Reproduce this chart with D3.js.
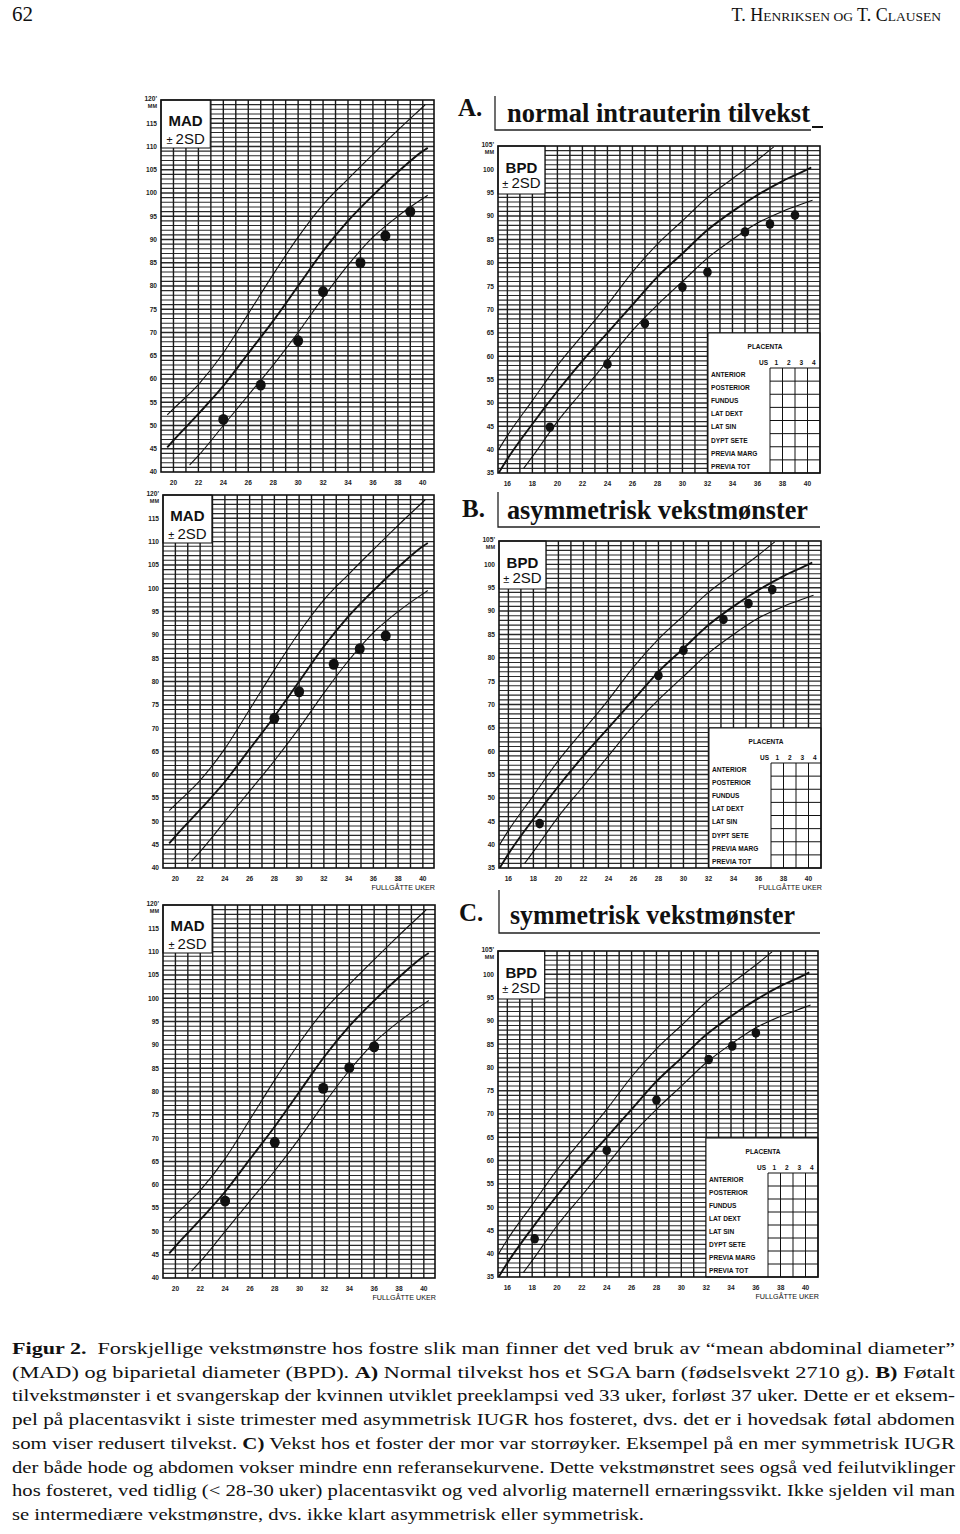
<!DOCTYPE html>
<html><head><meta charset="utf-8">
<script src="https://cdn.jsdelivr.net/npm/d3@7"></script>
<style>html,body{margin:0;padding:0;background:#fff;}</style>
</head><body>
<svg id="c" width="960" height="1534"></svg>
<script>
// ---------- DATA ----------
// MAD reference curves (mm) by gestational week
const madUpperWeeks = [19.5,20,22,24,26,28,30,32,34,36,38,40,40.2];
const madUpperMM    = [52.3,53.6,58.8,65.6,74,82.5,90.5,97.5,103,108.3,113.5,118.5,119];
const madMeanWeeks  = [19.5,20,22,24,26,28,30,32,34,36,38,40,40.4];
const madMeanMM     = [45.3,46.8,52.5,58.5,65.5,72.5,80,87.5,94,99.5,104.5,109,109.7];
const madLowerWeeks = [21.3,22,24,26,28,30,32,34,36,38,40,40.4];
const madLowerMM    = [41.5,43.5,50,56.5,63,70,77.5,84.5,90.5,95,98.8,99.5];
// BPD reference curves (mm)
const bpdUpperWeeks = [15.3,16,18,20,22,24,26,28,30,32,34,36,37.3];
const bpdUpperMM    = [40,43,50.5,58,64.5,71,78,84,89,94,98,102,104.8];
const bpdMeanWeeks  = [15.3,16,18,20,22,24,26,28,30,32,34,36,38,40,40.3];
const bpdMeanMM     = [35,38,45.5,52.5,59,65,71,77,82,87,91,94.5,97.5,100,100.4];
const bpdLowerWeeks = [17.3,18,20,22,24,26,28,30,32,34,36,38,40,40.4];
const bpdLowerMM    = [36,38.5,46,52.5,59,65.5,71,76,81,85,88.5,91,93,93.4];
// Measurements (week, mm)
const madA = [[24,51.3],[27,58.7],[30,68.2],[32,78.8],[35,85],[37,90.8],[39,96]];
const bpdA = [[19.4,44.8],[24,58.3],[27,67],[30,74.8],[32,78],[35,86.6],[37,88.3],[39,90.2]];
const madB = [[28,72.1],[30,77.8],[32.8,83.7],[34.9,87],[37,89.8]];
const bpdB = [[18.5,44.5],[28,76.2],[30,81.6],[33.2,88.2],[35.2,91.6],[37.1,94.6]];
const madC = [[24,56.5],[28,69.1],[31.9,80.7],[34,85.1],[36,89.6]];
const bpdC = [[18.2,43.2],[24,62.2],[28,73],[32.2,81.7],[34.1,84.6],[36,87.4]];
// Tick labels
const madYTicks = [40,45,50,55,60,65,70,75,80,85,90,95,100,105,110,115];
const bpdYTicks = [35,40,45,50,55,60,65,70,75,80,85,90,95,100];
const madXTicks = [20,22,24,26,28,30,32,34,36,38,40];
const bpdXTicks = [16,18,20,22,24,26,28,30,32,34,36,38,40];
const placentaRows = ["ANTERIOR","POSTERIOR","FUNDUS","LAT DEXT","LAT SIN","DYPT SETE","PREVIA MARG","PREVIA TOT"];
const placentaCols = ["1","2","3","4"];
const sectionLetters = ["A.","B.","C."];
const sectionTitles = ["normal intrauterin tilvekst","asymmetrisk vekstmønster","symmetrisk vekstmønster"];
const captionLines = [
 [["Figur 2.",1],["  Forskjellige vekstmønstre hos fostre slik man finner det ved bruk av “mean abdominal diameter”",0]],
 [["(MAD) og biparietal diameter (BPD). ",0],["A)",1],[" Normal tilvekst hos et SGA barn (fødselsvekt 2710 g). ",0],["B)",1],[" Føtalt",0]],
 [["tilvekstmønster i et svangerskap der kvinnen utviklet preeklampsi ved 33 uker, forløst 37 uker. Dette er et eksem-",0]],
 [["pel på placentasvikt i siste trimester med asymmetrisk IUGR hos fosteret, dvs. det er i hovedsak føtal abdomen",0]],
 [["som viser redusert tilvekst. ",0],["C)",1],[" Vekst hos et foster der mor var storrøyker. Eksempel på en mer symmetrisk IUGR",0]],
 [["der både hode og abdomen vokser mindre enn referansekurvene. Dette vekstmønstret sees også ved feilutviklinger",0]],
 [["hos fosteret, ved tidlig (< 28-30 uker) placentasvikt og ved alvorlig maternell ernæringssvikt. Ikke sjelden vil man",0]],
 [["se intermediære vekstmønstre, dvs. ikke klart asymmetrisk eller symmetrisk.",0]]
];

// ---------- LAYOUT ----------
const svg = d3.select("#c");
const SANS = "'Liberation Sans', Arial, sans-serif";
const SERIF = "'Liberation Serif', 'Times New Roman', serif";

const madCurves = [[madUpperWeeks,madUpperMM,1.1],[madMeanWeeks,madMeanMM,1.9],[madLowerWeeks,madLowerMM,1.1]];
const bpdCurves = [[bpdUpperWeeks,bpdUpperMM,1.1],[bpdMeanWeeks,bpdMeanMM,1.9],[bpdLowerWeeks,bpdLowerMM,1.1]];

const panels = [
 {kind:"MAD", x0:161, x1:434, y0:100, y1:472, xd:[19,40.9], yd:[40,120], pts:madA, foot:false},
 {kind:"BPD", x0:498, x1:820, y0:146, y1:473, xd:[15.25,41], yd:[35,105], pts:bpdA, foot:false},
 {kind:"MAD", x0:163, x1:434, y0:495, y1:868, xd:[19,40.9], yd:[40,120], pts:madB, foot:true},
 {kind:"BPD", x0:499, x1:821, y0:541, y1:868, xd:[15.25,41], yd:[35,105], pts:bpdB, foot:true},
 {kind:"MAD", x0:163, x1:435, y0:905, y1:1278, xd:[19,40.9], yd:[40,120], pts:madC, foot:true},
 {kind:"BPD", x0:498, x1:818, y0:951, y1:1277, xd:[15.25,41], yd:[35,105], pts:bpdC, foot:true}
];

panels.forEach((p,i)=>{
  const g = svg.append("g");
  const x = d3.scaleLinear().domain(p.xd).range([p.x0,p.x1]);
  const y = d3.scaleLinear().domain(p.yd).range([p.y1,p.y0]);
  const clipId = "clip"+i;
  svg.append("clipPath").attr("id",clipId).append("rect")
    .attr("x",p.x0).attr("y",p.y0).attr("width",p.x1-p.x0).attr("height",p.y1-p.y0);
  // horizontal grid every mm
  const hs = d3.range(p.yd[0]+1, p.yd[1]);
  g.append("g").selectAll("line").data(hs).join("line")
    .attr("x1",p.x0).attr("x2",p.x1).attr("y1",d=>y(d)).attr("y2",d=>y(d))
    .attr("stroke", "#2b2b2b").attr("stroke-width",d=> d%5===0?1.4:1.1);
  // vertical grid every week
  const vs = d3.range(Math.ceil(p.xd[0]), Math.floor(p.xd[1])+1).filter(w=>x(w)>p.x0+1 && x(w)<p.x1-1);
  g.append("g").selectAll("line").data(vs).join("line")
    .attr("y1",p.y0).attr("y2",p.y1).attr("x1",d=>x(d)).attr("x2",d=>x(d))
    .attr("stroke","#1a1a1a").attr("stroke-width",1.4);
  // label box
  const isMad = p.kind==="MAD";
  const bx1 = isMad ? x(19+3.95) : x(15.25+3.75);
  const by1 = isMad ? p.y0+48 : p.y0+48;
  g.append("rect").attr("x",p.x0).attr("y",p.y0).attr("width",bx1-p.x0).attr("height",by1-p.y0)
    .attr("fill","#fff").attr("stroke","#111").attr("stroke-width",1);
  const cx = (p.x0+bx1)/2;
  g.append("text").attr("x",cx).attr("y",p.y0+(isMad?26:27)).attr("text-anchor","middle")
    .attr("font-family",SANS).attr("font-weight","bold").attr("font-size",15).attr("fill","#111").text(p.kind);
  const t2 = g.append("text").attr("x",cx).attr("y",p.y0+(isMad?44:42)).attr("text-anchor","middle")
    .attr("font-family",SANS).attr("font-size",15).attr("fill","#111");
  t2.append("tspan").attr("font-size",11).text("± ");
  t2.append("tspan").text("2SD");
  // placenta table for BPD panels
  if(!isMad){
    const tl = p.x1-112, tt = p.y0+187, gl = p.x1-50, gt = p.y0+222;
    g.append("rect").attr("x",tl).attr("y",tt).attr("width",p.x1-tl).attr("height",p.y1-tt)
      .attr("fill","#fff").attr("stroke","#111").attr("stroke-width",1);
    g.append("text").attr("x",tl+57).attr("y",tt+16).attr("text-anchor","middle")
      .attr("font-family",SANS).attr("font-weight","bold").attr("font-size",6.5).attr("fill","#111").text("PLACENTA");
    const cw = (p.x1-gl)/4, rh = (p.y1-gt)/8;
    g.append("text").attr("x",gl-2).attr("y",gt-3).attr("text-anchor","end")
      .attr("font-family",SANS).attr("font-weight","bold").attr("font-size",6.5).attr("fill","#111").text("US");
    g.append("g").selectAll("text").data(placentaCols).join("text")
      .attr("x",(d,j)=>gl+cw*(j+0.5)).attr("y",gt-3).attr("text-anchor","middle")
      .attr("font-family",SANS).attr("font-weight","bold").attr("font-size",6.5).attr("fill","#111").text(d=>d);
    g.append("g").selectAll("text").data(placentaRows).join("text")
      .attr("x",tl+3).attr("y",(d,j)=>gt+rh*(j+0.5)+2.4)
      .attr("font-family",SANS).attr("font-weight","bold").attr("font-size",6.6).attr("fill","#111").text(d=>d);
    g.append("g").selectAll("line").data(d3.range(0,8)).join("line")
      .attr("x1",gl).attr("x2",p.x1).attr("y1",j=>gt+rh*j).attr("y2",j=>gt+rh*j).attr("stroke","#111").attr("stroke-width",1);
    g.append("g").selectAll("line").data(d3.range(0,4)).join("line")
      .attr("y1",gt).attr("y2",p.y1).attr("x1",j=>gl+cw*j).attr("x2",j=>gl+cw*j).attr("stroke","#111").attr("stroke-width",1);
  }
  // curves
  const curves = isMad ? madCurves : bpdCurves;
  const line = d3.line().x(d=>x(d[0])).y(d=>y(d[1])).curve(d3.curveMonotoneX);
  curves.forEach(c=>{
    const pts = c[0].map((w,k)=>[w,c[1][k]]);
    g.append("path").attr("d",line(pts)).attr("fill","none").attr("stroke","#111")
      .attr("stroke-width",c[2]).attr("clip-path",`url(#${clipId})`);
  });
  // measurement points
  g.append("g").selectAll("ellipse").data(p.pts).join("ellipse")
    .attr("cx",d=>x(d[0])).attr("cy",d=>y(d[1]))
    .attr("rx",isMad?5:4.3).attr("ry",isMad?5.5:4.8).attr("fill","#111");
  // border
  g.append("rect").attr("x",p.x0).attr("y",p.y0).attr("width",p.x1-p.x0).attr("height",p.y1-p.y0)
    .attr("fill","none").attr("stroke","#111").attr("stroke-width",1.6);
  // y tick labels
  const yt = isMad ? madYTicks : bpdYTicks;
  g.append("g").selectAll("text").data(yt).join("text")
    .attr("x",p.x0-4).attr("y",d=>y(d)+2.4).attr("text-anchor","end")
    .attr("font-family",SANS).attr("font-weight","bold").attr("font-size",6.6).attr("fill","#222").text(d=>d);
  g.append("text").attr("x",p.x0-4).attr("y",p.y0+1).attr("text-anchor","end")
    .attr("font-family",SANS).attr("font-weight","bold").attr("font-size",6.6).attr("fill","#222").text((isMad?"120":"105")+"'");
  g.append("text").attr("x",p.x0-4).attr("y",p.y0+7.5).attr("text-anchor","end")
    .attr("font-family",SANS).attr("font-weight","bold").attr("font-size",5.5).attr("fill","#222").text("MM");
  // x tick labels
  const xt = isMad ? madXTicks : bpdXTicks;
  g.append("g").selectAll("text").data(xt).join("text")
    .attr("x",d=>x(d)).attr("y",p.y1+12.5).attr("text-anchor","middle")
    .attr("font-family",SANS).attr("font-weight","bold").attr("font-size",6.6).attr("fill","#222").text(d=>d);
  if(p.foot){
    g.append("text").attr("x",p.x1+1).attr("y",p.y1+22).attr("text-anchor","end")
      .attr("font-family",SANS).attr("font-size",7.2).attr("fill","#111").text("FULLGÅTTE UKER");
  }
});

// section titles
const titleGeo = [
  {lx:458, ly:116, tx:507, ty:122, tw:303, bar:495, barTop:96, rule:130, ruleEnd:811},
  {lx:462, ly:517, tx:507, ty:519, tw:301, bar:498, barTop:492, rule:527, ruleEnd:820},
  {lx:459, ly:921, tx:510, ty:924, tw:285, bar:499, barTop:890, rule:933, ruleEnd:820}
];
titleGeo.forEach((t,i)=>{
  svg.append("text").attr("x",t.lx).attr("y",t.ly).attr("font-family",SERIF).attr("font-weight","bold")
    .attr("font-size",25).attr("fill","#111").text(sectionLetters[i]);
  svg.append("text").attr("x",t.tx).attr("y",t.ty).attr("font-family",SERIF).attr("font-weight","bold")
    .attr("font-size",28).attr("fill","#111").attr("textLength",t.tw).attr("lengthAdjust","spacingAndGlyphs")
    .text(sectionTitles[i]);
  svg.append("path").attr("d",`M${t.bar},${t.barTop}V${t.rule}H${t.ruleEnd}`).attr("fill","none")
    .attr("stroke","#222").attr("stroke-width",1.3);
});
svg.append("line").attr("x1",812).attr("x2",823).attr("y1",127).attr("y2",127).attr("stroke","#111").attr("stroke-width",2);

// page header
svg.append("text").attr("x",12).attr("y",21).attr("font-family",SERIF).attr("font-size",21).attr("fill","#111").text("62");
const hdr = svg.append("text").attr("x",941).attr("y",21).attr("text-anchor","end")
  .attr("font-family",SERIF).attr("font-size",18).attr("fill","#111");
[["T. H",18],["ENRIKSEN OG",13.5],[" T. C",18],["LAUSEN",13.5]].forEach(s=>hdr.append("tspan").attr("font-size",s[1]).text(s[0]));

// caption, justified by stretching each line to the text column width
const capLeft = 12, capRight = 955, capTop = 1354, capStep = 23.7;
const capNodes = [];
captionLines.forEach((ln,i)=>{
  const t = svg.append("text").attr("x",capLeft).attr("y",capTop+i*capStep)
    .attr("font-family",SERIF).attr("font-size",17.5).attr("fill","#111").style("white-space","pre");
  ln.forEach(s=>t.append("tspan").attr("font-weight",s[1]?"bold":"normal").text(s[0]));
  capNodes.push(t);
});
const ratios = [];
capNodes.forEach((t,i)=>{
  const w = t.node().getComputedTextLength();
  if(i<capNodes.length-1){
    ratios.push((capRight-capLeft)/w);
    t.attr("textLength",capRight-capLeft).attr("lengthAdjust","spacingAndGlyphs");
  } else {
    const r = d3.min(ratios);
    t.attr("textLength",w*r).attr("lengthAdjust","spacingAndGlyphs");
  }
});
</script>
</body></html>
